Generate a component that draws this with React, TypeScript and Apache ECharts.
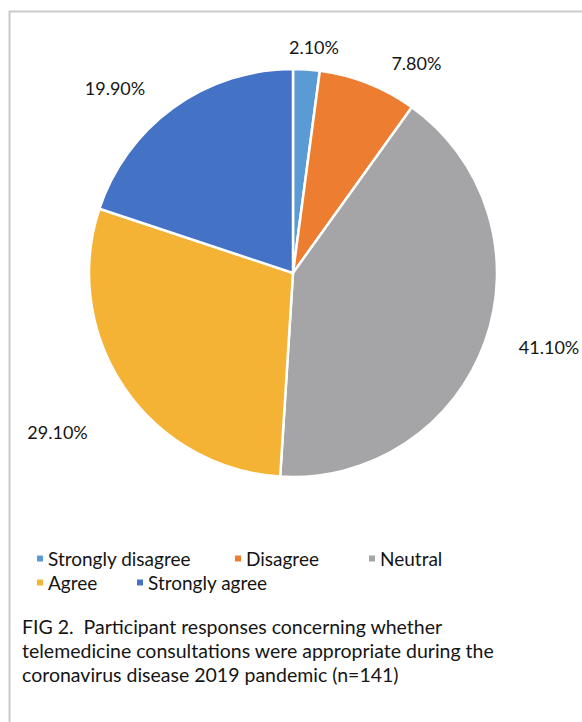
import React, { useEffect, useRef } from "react";
import * as echarts from "echarts";

const categories = ["Strongly disagree", "Disagree", "Neutral", "Agree", "Strongly agree"];
const values = [2.1, 7.8, 41.1, 29.1, 19.9];
const colors = ["#5B9BD5", "#ED7D31", "#A5A5A7", "#F5B335", "#4472C4"];
const caption = [
  "FIG 2.  Participant responses concerning whether",
  "telemedicine consultations were appropriate during the",
  "coronavirus disease 2019 pandemic (n=141)",
];

// label placement styling per slice: radial gap beyond the edge, plus a small nudge
const labelGap = [12, 21, 30, 50, 29];
const labelNudge = [[6, 0], [7, -5], [6, -15], [0, 0], [-27, 24]];

const FONT = "Lato, 'Open Sans', sans-serif";
const legendPos = [
  { left: 35, top: 549 },
  { left: 233, top: 549 },
  { left: 367, top: 549 },
  { left: 35, top: 573 },
  { left: 135, top: 573 },
];

export default function App() {
  const ref = useRef<HTMLDivElement>(null);
  useEffect(() => {
    if (!ref.current) return;
    const chart = echarts.init(ref.current, null, { renderer: "svg" });
    chart.setOption({
      animation: false,
      backgroundColor: "#ffffff",
      color: colors,
      title: {
        text: caption.join("\n"),
        left: 22,
        top: 614,
        padding: 0,
        textStyle: { fontFamily: FONT, fontSize: 19.5, fontWeight: "normal", color: "#151515", lineHeight: 24 },
      },
      legend: categories.map((c, i) => ({
        data: [c],
        left: legendPos[i].left,
        top: legendPos[i].top,
        padding: 0,
        icon: "rect",
        itemWidth: 8,
        itemHeight: 8,
        itemGap: 0,
        selectedMode: false,
        textStyle: { fontFamily: FONT, fontSize: 19, color: "#151515", padding: [0, 0, 0, -1] },
      })),
      graphic: [
        { type: "line", shape: { x1: 9, y1: 11.5, x2: 582, y2: 11.5 }, style: { stroke: "#c9c9c9", lineWidth: 2 } },
        { type: "line", shape: { x1: 9.5, y1: 11, x2: 9.5, y2: 722 }, style: { stroke: "#c9c9c9", lineWidth: 2 } },
      ],
      series: [
        {
          type: "pie",
          center: [293, 273],
          radius: 204,
          startAngle: 90,
          clockwise: true,
          data: categories.map((c, i) => ({
            name: c,
            value: values[i],
            labelLine: { length: labelGap[i], length2: 0 },
          })),
          itemStyle: { borderColor: "#ffffff", borderWidth: 2.5 },
          label: {
            show: true,
            position: "outside",
            overflow: "none",
            formatter: (p: any) => p.value.toFixed(2) + "%",
            fontFamily: FONT,
            fontSize: 18,
            color: "#151515",
          },
          labelLine: { show: true, lineStyle: { opacity: 0 } },
          labelLayout: (params: any) => {
            const pts = params.labelLinePoints;
            if (!pts || pts.length < 2) return {};
            const p0 = pts[0];
            const p1 = pts[1];
            let dx = p1[0] - p0[0];
            let dy = p1[1] - p0[1];
            const len = Math.sqrt(dx * dx + dy * dy) || 1;
            dx /= len;
            dy /= len;
            const w = params.labelRect.width;
            const h = params.labelRect.height;
            const s = Math.abs(dx) * (w / 2) + Math.abs(dy) * (h / 2);
            const nudge = labelNudge[params.dataIndex] || [0, 0];
            return {
              x: p1[0] + dx * s + nudge[0],
              y: p1[1] + dy * s + nudge[1],
              align: "center",
              verticalAlign: "middle",
            };
          },
          emphasis: { disabled: true },
        },
      ],
    });
    return () => chart.dispose();
  }, []);
  return <div ref={ref} style={{ position: "fixed", left: 0, top: 0, width: 582, height: 722 }} />;
}
